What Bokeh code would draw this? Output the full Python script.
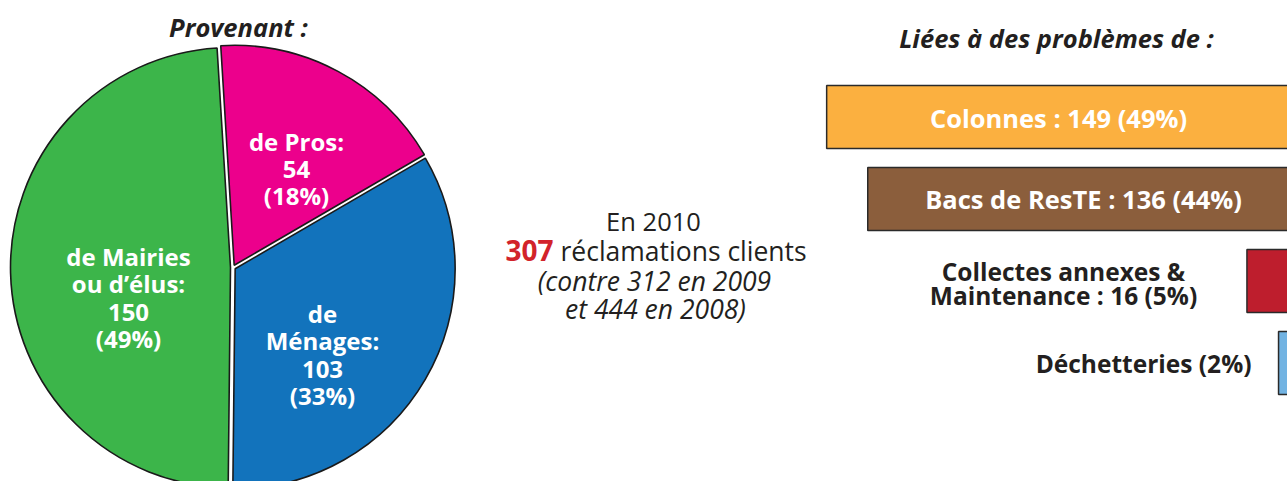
import numpy as np
from bokeh.plotting import figure
from bokeh.models import Range1d
from bokeh.core.properties import value
from bokeh.embed import file_html
from bokeh.resources import INLINE

# ---------------- data ----------------
origin_names = ["de Pros:", "de\nMénages:", "de Mairies\nou d\u2019élus:"]
origin_values = [54, 103, 150]
origin_pcts = [18, 33, 49]
origin_colors = ["#EC008C", "#1273BC", "#3CB54A"]

issue_names = ["Colonnes", "Bacs de ResTE", "Collectes annexes &\nMaintenance", "Déchetteries"]
issue_values = [149, 136, 16, 6]
issue_pcts = [49, 44, 5, 2]
issue_colors = ["#FBB040", "#8B5E3C", "#BE1E2D", "#72B3E2"]

total_2010 = 307
prev_years = ["2009", "2008"]
prev_totals = [312, 444]

pie_title = "Provenant :"
bar_title = "Liées à des problèmes de :"

# ---------------- geometry helpers (screen px -> figure coords) ----------------
W, H = 1287, 481
def X(sx):
    return sx
def Y(sy):
    return H - sy

FONT = "Open Sans"
DARK = "#231F20"

p = figure(width=W, height=H, x_range=Range1d(0, W), y_range=Range1d(0, H),
           x_axis_type=None, y_axis_type=None, toolbar_location=None,
           output_backend="svg", min_border=0)
p.outline_line_color = None
p.background_fill_color = "white"
p.border_fill_color = "white"

# ---------------- pie ----------------
cx, cy, r = X(232.5), Y(267), 220
start_deg = -3.5  # clockwise from top
fr = np.array(origin_values, dtype=float) / sum(origin_values)
ends = start_deg + np.cumsum(fr) * 360.0
starts = np.concatenate([[start_deg], ends[:-1]])
mids = (starts + ends) / 2.0
explode = 2.5
for s, e, m, col in zip(starts, ends, mids, origin_colors):
    phi = np.radians(90 - m)
    ox, oy = explode * np.cos(phi), explode * np.sin(phi)
    p.wedge(x=[cx + ox], y=[cy + oy], radius=r,
            start_angle=[np.radians(90 - s)], end_angle=[np.radians(90 - e)],
            direction="clock", fill_color=col, line_color="#1a1a1a", line_width=1.6)

pie_labels = [f"{n}\n{v}\n({pc}%)" for n, v, pc in zip(origin_names, origin_values, origin_pcts)]
pie_lx = [X(296), X(322), X(128)]
pie_ly = [Y(168), Y(354), Y(297)]
p.text(x=pie_lx, y=pie_ly, text=pie_labels, text_font=value(FONT), text_font_size="24px",
       text_font_style="bold", text_color="white", text_align="center",
       text_baseline="middle", text_line_height=0.82)

p.text(x=[X(238)], y=[Y(26)], text=[pie_title], text_font=value(FONT), text_font_size="25.5px",
       text_font_style="bold italic", text_color=DARK, text_align="center", text_baseline="middle")

# ---------------- centre text ----------------
p.text(x=[X(653)], y=[Y(220)], text=["En 2010"], text_font=value(FONT), text_font_size="25.5px",
       text_color=DARK, text_align="center", text_baseline="middle")
p.text(x=[X(553)], y=[Y(250)], text=[str(total_2010)], text_font=value(FONT), text_font_size="28px",
       text_font_style="bold", text_color="#D2232A", text_align="right", text_baseline="middle")
p.text(x=[X(560)], y=[Y(250)], text=["réclamations clients"], text_font=value(FONT), text_font_size="26.5px",
       text_color=DARK, text_align="left", text_baseline="middle")
p.text(x=[X(654), X(655)], y=[Y(280), Y(308)],
       text=[f"(contre {prev_totals[0]} en {prev_years[0]}", f"et {prev_totals[1]} en {prev_years[1]})"],
       text_font=value(FONT), text_font_size="26.5px", text_font_style="italic",
       text_color=DARK, text_align="center", text_baseline="middle")

# ---------------- bars (right-anchored, extending off the page) ----------------
right_edge = X(1297)
px_per_unit = 3.16
p.extra_x_ranges = {"bars": Range1d(start=right_edge / px_per_unit,
                                    end=(right_edge - W) / px_per_unit)}
bar_y = [Y(116.5 + 82 * i) for i in range(len(issue_values))]
p.hbar(y=bar_y, left=0, right=issue_values, height=63, fill_color=issue_colors,
       line_color="#2a2a2a", line_width=1.5, x_range_name="bars")

bar_labels = [f"{issue_names[0]} : {issue_values[0]} ({issue_pcts[0]}%)",
              f"{issue_names[1]} : {issue_values[1]} ({issue_pcts[1]}%)",
              f"{issue_names[2]} : {issue_values[2]} ({issue_pcts[2]}%)",
              f"{issue_names[3]} ({issue_pcts[3]}%)"]
p.text(x=[X(1058), X(1083)], y=[Y(117), Y(198)], text=bar_labels[:2], text_font=value(FONT),
       text_font_size="25.5px", text_font_style="bold", text_color="white",
       text_align="center", text_baseline="middle")
p.text(x=[X(1063)], y=[Y(283)], text=[bar_labels[2]], text_font=value(FONT),
       text_font_size="24.5px", text_font_style="bold", text_color=DARK,
       text_align="center", text_baseline="middle", text_line_height=0.75)
p.text(x=[X(1251)], y=[Y(363)], text=[bar_labels[3]], text_font=value(FONT),
       text_font_size="24.5px", text_font_style="bold", text_color=DARK,
       text_align="right", text_baseline="middle")

p.text(x=[X(1056)], y=[Y(37)], text=[bar_title], text_font=value(FONT), text_font_size="25.5px",
       text_font_style="bold italic", text_color=DARK, text_align="center", text_baseline="middle")

open("out.html", "w").write(file_html(p, INLINE))
